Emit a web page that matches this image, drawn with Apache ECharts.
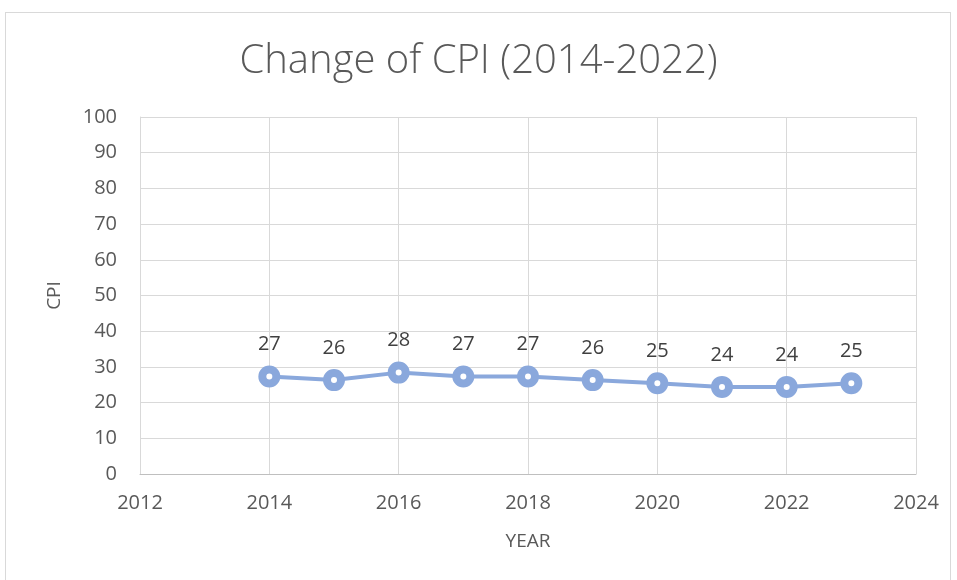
<!DOCTYPE html>
<html>
<head>
<meta charset="utf-8">
<script src="https://cdn.jsdelivr.net/npm/echarts@6/dist/echarts.min.js"></script>
<style>
  html, body { margin: 0; padding: 0; background: #fff; }
  .frame {
    position: absolute; left: 5px; top: 12px; width: 946px; height: 580px;
    border: 1px solid #d9d9d9; border-bottom: none; box-sizing: border-box;
  }
  #chart { position: absolute; left: 0; top: 0; width: 957px; height: 580px; }
</style>
</head>
<body>
<div class="frame"></div>
<div id="chart"></div>
<script>
// 数据
const years = [2014, 2015, 2016, 2017, 2018, 2019, 2020, 2021, 2022, 2023]
const cpi = [27.3, 26.3, 28.4, 27.3, 27.3, 26.3, 25.4, 24.4, 24.4, 25.4]
const xTicks = [2012, 2024, 2]
const yTicks = [0, 100, 10]

const font = '"Open Sans", "Noto Sans", sans-serif'
const textColor = '#595959'
const blue = '#8aa8dc'

let myCharts = echarts.init(document.getElementById('chart'))
myCharts.setOption({
  animation: false,
  title: {
    text: 'Change of CPI (2014-2022)',
    left: 'center',
    top: 37,
    textStyle: {
      color: textColor,
      fontFamily: font,
      fontSize: 40,
      fontWeight: 300
    }
  },
  grid: {
    left: 140,
    right: 41,
    top: 117,
    bottom: 106
  },
  xAxis: {
    type: 'value',
    min: xTicks[0],
    max: xTicks[1],
    interval: xTicks[2],
    name: 'YEAR',
    nameLocation: 'center',
    nameGap: 58,
    nameTextStyle: { color: textColor, fontFamily: font, fontSize: 19 },
    axisLine: { lineStyle: { color: '#bfbfbf', width: 1 } },
    axisTick: { show: false },
    splitLine: { show: true, lineStyle: { color: '#d9d9d9', width: 1 } },
    axisLabel: {
      color: textColor,
      fontFamily: font,
      fontSize: 20,
      margin: 19,
      formatter: function (v) { return String(v) }
    }
  },
  yAxis: {
    type: 'value',
    min: yTicks[0],
    max: yTicks[1],
    interval: yTicks[2],
    name: 'CPI',
    nameLocation: 'center',
    nameGap: 76,
    nameTextStyle: { color: textColor, fontFamily: font, fontSize: 19 },
    axisLine: { show: true, lineStyle: { color: '#d9d9d9', width: 1 } },
    axisTick: { show: false },
    splitLine: { lineStyle: { color: '#d9d9d9', width: 1 } },
    axisLabel: {
      color: textColor,
      fontFamily: font,
      fontSize: 20,
      margin: 23
    }
  },
  series: [
    {
      type: 'line',
      data: years.map(function (y, i) { return [y, cpi[i]] }),
      symbol: 'circle',
      symbolSize: 14,
      lineStyle: { color: blue, width: 4 },
      itemStyle: { color: '#ffffff', borderColor: blue, borderWidth: 8 },
      label: {
        show: true,
        position: 'top',
        distance: 11,
        color: '#404040',
        fontFamily: font,
        fontSize: 20,
        formatter: function (p) { return Math.round(p.value[1]) }
      }
    }
  ]
})
window.addEventListener('resize', function () {
  myCharts.resize()
})
</script>
</body>
</html>
